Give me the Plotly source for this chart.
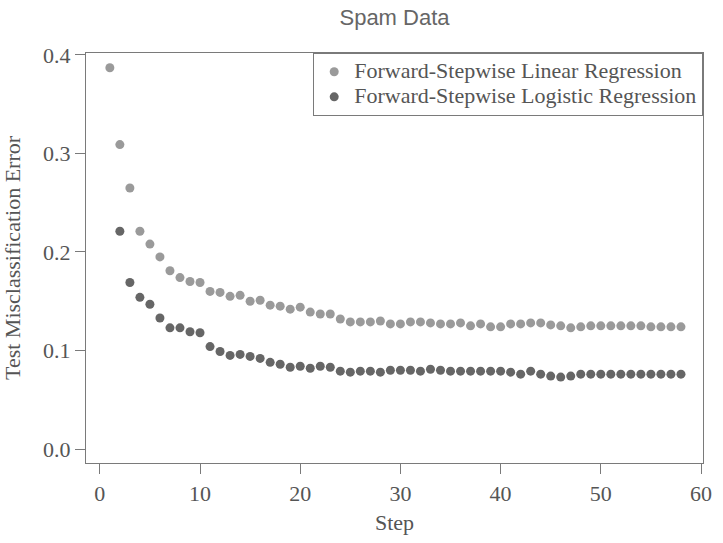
import plotly.graph_objects as go

# Test misclassification error on the spam data, by number of forward steps
steps_linear = list(range(1, 59))
err_linear = [
    0.387, 0.309, 0.265, 0.221, 0.208, 0.195, 0.181, 0.174, 0.170, 0.169,
    0.160, 0.159, 0.155, 0.156, 0.150, 0.151, 0.146, 0.145, 0.142, 0.144,
    0.139, 0.137, 0.137, 0.132, 0.129, 0.129, 0.129, 0.130, 0.127, 0.127,
    0.129, 0.129, 0.128, 0.127, 0.127, 0.128, 0.125, 0.127, 0.124, 0.124,
    0.127, 0.127, 0.128, 0.128, 0.126, 0.125, 0.123, 0.124, 0.125, 0.125,
    0.125, 0.125, 0.125, 0.125, 0.124, 0.124, 0.124, 0.124,
]

steps_logistic = list(range(2, 59))
err_logistic = [
    0.221, 0.169, 0.154, 0.147, 0.133, 0.123, 0.123, 0.119, 0.118,
    0.104, 0.099, 0.095, 0.096, 0.094, 0.092, 0.088, 0.086, 0.083, 0.084,
    0.082, 0.084, 0.083, 0.079, 0.078, 0.079, 0.079, 0.078, 0.080, 0.080,
    0.080, 0.079, 0.081, 0.080, 0.079, 0.079, 0.079, 0.079, 0.079, 0.079,
    0.078, 0.076, 0.079, 0.076, 0.074, 0.073, 0.074, 0.076, 0.076, 0.076,
    0.076, 0.076, 0.076, 0.076, 0.076, 0.076, 0.076, 0.076,
]

series_names = [
    "Forward-Stepwise Linear Regression",
    "Forward-Stepwise Logistic Regression",
]
series_colors = ["#9a9a9a", "#666666"]

x_ticks = [0, 10, 20, 30, 40, 50, 60]
y_ticks = [0.0, 0.1, 0.2, 0.3, 0.4]

SERIF = "Liberation Serif, Times New Roman, serif"
TEXT = "#555555"
LINE = "#7a7a7a"

fig = go.Figure()
for xs, ys, name, color in zip(
    [steps_linear, steps_logistic],
    [err_linear, err_logistic],
    series_names,
    series_colors,
):
    fig.add_trace(
        go.Scatter(
            x=xs,
            y=ys,
            mode="markers",
            # larger text inside a compact legend row
            name=f'<span style="font-size:22px">{name}</span>',
            marker=dict(size=9, color=color, line=dict(width=0)),
        )
    )

axis_common = dict(
    showgrid=False,
    zeroline=False,
    showline=True,
    linecolor=LINE,
    linewidth=1.2,
    mirror=True,
    ticks="outside",
    ticklen=10,
    tickwidth=1.2,
    tickcolor=LINE,
    tickfont=dict(family=SERIF, size=22, color=TEXT),
)

fig.update_xaxes(
    range=[-1.38, 60.2],
    tickvals=x_ticks,
    ticktext=[str(v) for v in x_ticks],
    title=dict(text="Step", font=dict(family=SERIF, size=22, color=TEXT), standoff=10),
    **axis_common,
)
fig.update_yaxes(
    range=[-0.0142, 0.402],
    tickvals=y_ticks,
    ticktext=[f"{v:.1f}" for v in y_ticks],
    title=dict(
        text="Test Misclassification Error",
        font=dict(family=SERIF, size=22, color=TEXT),
        standoff=17,
    ),
    **axis_common,
)

fig.update_layout(
    width=723,
    height=543,
    margin=dict(l=86, r=11, t=53, b=80),
    paper_bgcolor="white",
    plot_bgcolor="white",
    title=dict(
        text="Spam Data",
        font=dict(family="Liberation Sans, Arial, sans-serif", size=22, color="#666666"),
        x=0.5,
        xref="paper",
        y=1 - 17 / 543,
        yanchor="middle",
    ),
    legend=dict(
        x=1,
        y=1,
        xanchor="right",
        yanchor="top",
        bgcolor="white",
        bordercolor=LINE,
        borderwidth=1.2,
        font=dict(family=SERIF, size=17, color=TEXT),
        itemsizing="trace",
        tracegroupgap=0,
    ),
    showlegend=True,
)

fig.write_html("out.html")
